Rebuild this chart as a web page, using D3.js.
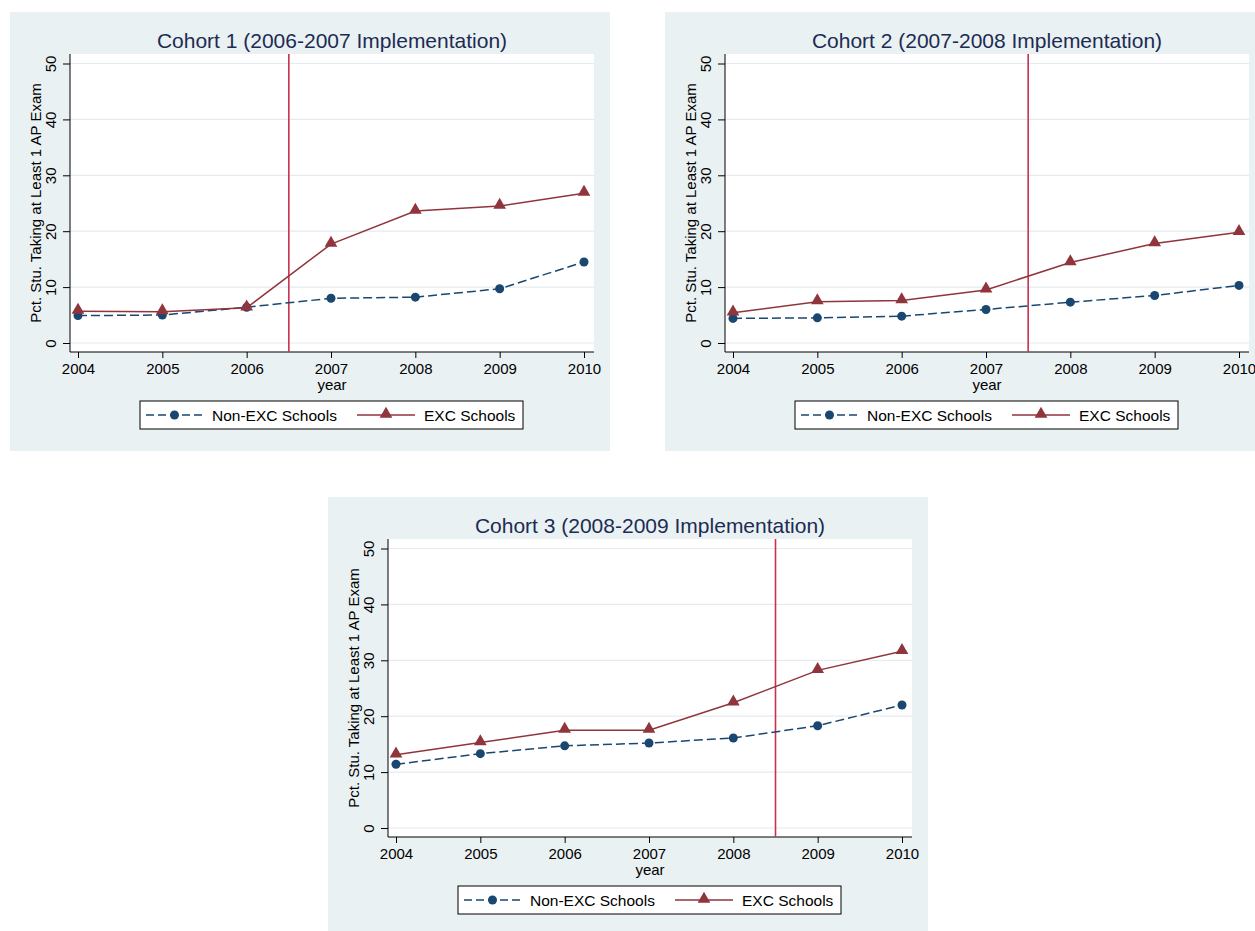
<!DOCTYPE html>
<html>
<head>
<meta charset="utf-8">
<script src="https://cdn.jsdelivr.net/npm/d3@7"></script>
<style>
  body { margin: 0; background: #fff; }
  svg { display: block; font-family: "Liberation Sans", Arial, sans-serif; }
</style>
</head>
<body>
<svg id="chart" width="1255" height="931"></svg>
<script>
// data
var years = [2004, 2005, 2006, 2007, 2008, 2009, 2010];
var yTicks = [0, 10, 20, 30, 40, 50];
var titles = ["Cohort 1 (2006-2007 Implementation)",
              "Cohort 2 (2007-2008 Implementation)",
              "Cohort 3 (2008-2009 Implementation)"];
var cutYears = [2006.5, 2007.5, 2008.5];
var seriesNames = ["Non-EXC Schools", "EXC Schools"];

var nonExc1 = [4.9, 5.0, 6.4, 8.0, 8.2, 9.7, 14.5];
var exc1    = [5.7, 5.6, 6.3, 17.7, 23.6, 24.5, 26.8];
var nonExc2 = [4.4, 4.5, 4.8, 6.0, 7.3, 8.5, 10.3];
var exc2    = [5.4, 7.4, 7.6, 9.5, 14.4, 17.8, 19.8];
var nonExc3 = [11.4, 13.3, 14.7, 15.2, 16.1, 18.3, 22.0];
var exc3    = [13.1, 15.3, 17.5, 17.5, 22.4, 28.2, 31.6];

var panels = [
  {x: 10,  y: 12,  title: titles[0], cut: cutYears[0], non: nonExc1, exc: exc1},
  {x: 665, y: 12,  title: titles[1], cut: cutYears[1], non: nonExc2, exc: exc2},
  {x: 328, y: 497, title: titles[2], cut: cutYears[2], non: nonExc3, exc: exc3}
];

var NAVY = "#1a476f", MAROON = "#90353b", CUT = "#c8324f";
var BG = "#eaf1f3", GRID = "#e4ecef";

var W = 600, H = 439;
var plot = {left: 60, right: 584, top: 42, bottom: 340};

var x = d3.scaleLinear().domain([2004, 2010]).range([68, 574]);
var y = d3.scaleLinear().domain([0, 50]).range([331, 51.5]);

var svg = d3.select("#chart");

var triangle = d3.symbol().type(d3.symbolTriangle).size(70);

function drawPanel(p) {
  var g = svg.append("g").attr("transform", "translate(" + p.x + "," + p.y + ")");

  g.append("rect").attr("width", W).attr("height", H).attr("fill", BG);
  g.append("rect")
      .attr("x", plot.left).attr("y", plot.top)
      .attr("width", plot.right - plot.left).attr("height", plot.bottom - plot.top)
      .attr("fill", "#fff");

  // title
  g.append("text")
      .attr("x", (plot.left + plot.right) / 2).attr("y", 36)
      .attr("text-anchor", "middle")
      .attr("font-size", 21)
      .attr("fill", "#1c2c52")
      .text(p.title);

  // gridlines
  g.selectAll(".grid")
      .data(yTicks)
      .enter().append("line")
      .attr("x1", plot.left).attr("x2", plot.right)
      .attr("y1", function (d) { return y(d); })
      .attr("y2", function (d) { return y(d); })
      .attr("stroke", GRID).attr("stroke-width", 1.2);

  // y axis
  var ya = g.append("g")
      .attr("transform", "translate(" + plot.left + ",0)")
      .call(d3.axisLeft(y).tickValues(yTicks).tickSize(7).tickPadding(0));
  ya.select(".domain").remove();
  ya.selectAll("line").attr("stroke", "#000");
  ya.selectAll("text")
      .attr("font-size", 15)
      .attr("fill", "#000")
      .attr("text-anchor", "middle")
      .attr("x", null).attr("dy", null)
      .attr("transform", "translate(-14,0) rotate(-90)");

  // x axis
  var xa = g.append("g")
      .attr("transform", "translate(0," + plot.bottom + ")")
      .call(d3.axisBottom(x).tickValues(years).tickFormat(d3.format("d")).tickSize(6).tickPadding(5));
  xa.select(".domain").remove();
  xa.selectAll("line").attr("stroke", "#000");
  xa.selectAll("text").attr("font-size", 15).attr("fill", "#000");

  g.append("line")
      .attr("x1", plot.left).attr("x2", plot.left)
      .attr("y1", plot.top).attr("y2", plot.bottom)
      .attr("stroke", "#000").attr("stroke-width", 1);
  g.append("line")
      .attr("x1", plot.left).attr("x2", plot.right)
      .attr("y1", plot.bottom).attr("y2", plot.bottom)
      .attr("stroke", "#000").attr("stroke-width", 1);

  // axis titles
  g.append("text")
      .attr("x", (plot.left + plot.right) / 2).attr("y", 378)
      .attr("text-anchor", "middle").attr("font-size", 15)
      .text("year");
  g.append("text")
      .attr("transform", "translate(31," + (plot.top + plot.bottom) / 2 + ") rotate(-90)")
      .attr("text-anchor", "middle").attr("font-size", 15)
      .text("Pct. Stu. Taking at Least 1 AP Exam");

  // vertical cut line
  g.append("line")
      .attr("x1", x(p.cut)).attr("x2", x(p.cut))
      .attr("y1", plot.top).attr("y2", plot.bottom)
      .attr("stroke", CUT).attr("stroke-width", 1.6);

  var line = d3.line()
      .x(function (d, i) { return x(years[i]); })
      .y(function (d) { return y(d); });

  // Non-EXC dashed with circles
  g.append("path").datum(p.non)
      .attr("d", line)
      .attr("fill", "none").attr("stroke", NAVY)
      .attr("stroke-width", 1.5).attr("stroke-dasharray", "9,4");
  g.selectAll(".dot").data(p.non).enter().append("circle")
      .attr("cx", function (d, i) { return x(years[i]); })
      .attr("cy", function (d) { return y(d); })
      .attr("r", 4.5).attr("fill", NAVY);

  // EXC solid with triangles
  g.append("path").datum(p.exc)
      .attr("d", line)
      .attr("fill", "none").attr("stroke", MAROON).attr("stroke-width", 1.5);
  g.selectAll(".tri").data(p.exc).enter().append("path")
      .attr("d", triangle)
      .attr("transform", function (d, i) {
        return "translate(" + x(years[i]) + "," + (y(d) - 1) + ")";
      })
      .attr("fill", MAROON);

  // legend
  var lg = g.append("g").attr("transform", "translate(130,389)");
  lg.append("rect").attr("width", 383).attr("height", 28)
      .attr("fill", "#fff").attr("stroke", "#000").attr("stroke-width", 1);
  lg.append("line").attr("x1", 6).attr("x2", 63).attr("y1", 14).attr("y2", 14)
      .attr("stroke", NAVY).attr("stroke-width", 1.5).attr("stroke-dasharray", "8,4");
  lg.append("circle").attr("cx", 34.5).attr("cy", 14).attr("r", 4.5).attr("fill", NAVY);
  lg.append("text").attr("x", 72).attr("y", 19.5).attr("font-size", 15.5).text(seriesNames[0]);
  lg.append("line").attr("x1", 217).attr("x2", 275).attr("y1", 14).attr("y2", 14)
      .attr("stroke", MAROON).attr("stroke-width", 1.5);
  lg.append("path").attr("d", triangle)
      .attr("transform", "translate(246,13)").attr("fill", MAROON);
  lg.append("text").attr("x", 284).attr("y", 19.5).attr("font-size", 15.5).text(seriesNames[1]);
}

panels.forEach(drawPanel);
</script>
</body>
</html>
